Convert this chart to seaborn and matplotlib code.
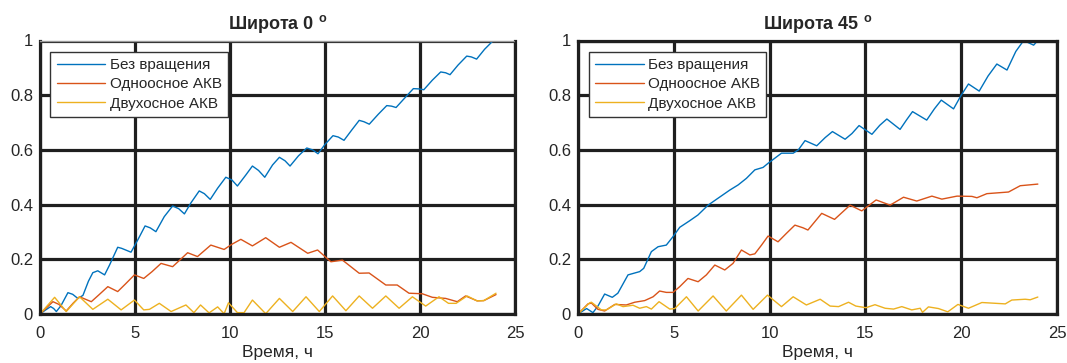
import pandas as pd
import matplotlib
matplotlib.use("Agg")
import matplotlib.pyplot as plt
import seaborn as sns
from matplotlib.ticker import FormatStrFormatter

# --- data (time in hours) ---
# latitude 0
t_blue0 = [0, 0.3, 0.56, 0.72, 0.86, 1.1, 1.47, 1.72, 1.99, 2.26, 2.55, 2.78, 3.04, 3.4, 3.66,
           4.09, 4.3, 4.79, 5.14, 5.53, 5.8, 6.1, 6.54, 6.98, 7.3, 7.6, 7.95, 8.38, 8.65, 8.96,
           9.35, 9.78, 10.1, 10.39, 10.83, 11.18, 11.5, 11.83, 12.24, 12.6, 12.9, 13.16, 13.6,
           14.04, 14.35, 14.63, 15.0, 15.42, 15.7, 16.0, 16.4, 16.8, 17.05, 17.33, 17.8, 18.25,
           18.5, 18.74, 19.2, 19.65, 19.95, 20.2, 20.65, 21.09, 21.35, 21.58, 22.0, 22.46, 22.7,
           22.98, 23.4, 23.86, 24.0]
v_blue0 = [0, 0.015, 0.027, 0.02, 0.009, 0.03, 0.078, 0.072, 0.057, 0.068, 0.12, 0.151, 0.158,
           0.143, 0.179, 0.244, 0.24, 0.226, 0.27, 0.322, 0.315, 0.301, 0.356, 0.395, 0.385,
           0.366, 0.407, 0.45, 0.44, 0.419, 0.46, 0.5, 0.49, 0.468, 0.508, 0.541, 0.525, 0.5,
           0.545, 0.573, 0.56, 0.541, 0.578, 0.607, 0.6, 0.586, 0.62, 0.652, 0.647, 0.635, 0.672,
           0.708, 0.703, 0.694, 0.73, 0.762, 0.76, 0.755, 0.79, 0.824, 0.823, 0.82, 0.855, 0.885,
           0.882, 0.875, 0.91, 0.943, 0.94, 0.932, 0.968, 1.0, 1.0]

t_red0 = [0, 0.68, 1.0, 1.38, 1.75, 2.08, 2.7, 3.1, 3.57, 4.09, 4.5, 4.97, 5.46, 5.9, 6.37, 6.98,
          7.4, 7.77, 8.29, 8.99, 9.69, 10.1, 10.57, 11.18, 11.88, 12.6, 13.21, 14.09, 14.61,
          15.31, 15.92, 16.8, 17.32, 18.2, 18.8, 19.42, 20.12, 20.65, 21.35, 21.96, 22.4, 23.01,
          23.36, 24.0]
v_red0 = [0, 0.045, 0.035, 0.011, 0.04, 0.063, 0.045, 0.07, 0.1, 0.082, 0.11, 0.143, 0.13,
          0.155, 0.185, 0.173, 0.2, 0.224, 0.21, 0.252, 0.236, 0.255, 0.273, 0.249, 0.279, 0.244,
          0.262, 0.222, 0.234, 0.191, 0.197, 0.149, 0.15, 0.106, 0.106, 0.076, 0.074, 0.061,
          0.057, 0.045, 0.066, 0.048, 0.049, 0.071]

t_yel0 = [0, 0.77, 1.38, 2.08, 2.78, 3.57, 4.27, 4.97, 5.46, 5.76, 6.28, 6.9, 7.68, 8.1, 8.45,
          8.9, 9.35, 9.69, 9.92, 10.39, 10.74, 11.18, 11.88, 12.6, 13.3, 14.0, 14.7, 15.4, 16.1,
          16.8, 17.5, 18.2, 18.9, 19.6, 20.3, 21.0, 21.5, 21.9, 22.48, 23.0, 23.36, 24.0]
v_yel0 = [0, 0.061, 0.009, 0.063, 0.017, 0.054, 0.015, 0.051, 0.015, 0.017, 0.039, 0.009,
          0.033, 0.005, 0.033, 0.004, 0.026, 0.001, 0.041, 0.005, 0.005, 0.051, 0.001, 0.057,
          0.009, 0.063, 0.009, 0.066, 0.012, 0.066, 0.021, 0.066, 0.021, 0.063, 0.029, 0.063,
          0.039, 0.039, 0.066, 0.048, 0.049, 0.076]

# latitude 45
t_blue45 = [0, 0.45, 0.78, 1.05, 1.39, 1.79, 2.08, 2.61, 3.22, 3.43, 3.83, 4.18, 4.61, 4.96,
            5.31, 5.83, 6.26, 6.79, 7.22, 7.92, 8.36, 8.79, 9.23, 9.66, 9.92, 10.62, 11.23,
            11.5, 11.85, 12.46, 12.9, 13.28, 13.94, 14.3, 14.67, 15.34, 15.75, 16.12, 16.81,
            17.15, 17.46, 18.2, 18.6, 18.96, 19.6, 20.0, 20.38, 20.94, 21.4, 21.86, 22.39,
            22.85, 23.26, 23.78, 24.0]
v_blue45 = [0, 0.02, 0.005, 0.03, 0.073, 0.061, 0.076, 0.143, 0.155, 0.167, 0.228, 0.246,
            0.252, 0.283, 0.317, 0.341, 0.362, 0.398, 0.419, 0.453, 0.472, 0.496, 0.527, 0.536,
            0.551, 0.588, 0.588, 0.6, 0.634, 0.615, 0.645, 0.667, 0.639, 0.66, 0.689, 0.657,
            0.69, 0.713, 0.675, 0.71, 0.74, 0.709, 0.75, 0.782, 0.75, 0.8, 0.841, 0.815, 0.87,
            0.914, 0.892, 0.96, 1.0, 0.983, 1.0]

t_red45 = [0, 0.52, 0.7, 1.04, 1.39, 1.92, 2.52, 2.96, 3.48, 3.92, 4.26, 4.61, 4.96, 5.31,
           5.74, 6.27, 6.7, 7.14, 7.66, 8.09, 8.53, 8.97, 9.23, 9.58, 9.92, 10.44, 10.88, 11.32,
           11.75, 12.0, 12.72, 13.39, 14.2, 14.81, 15.56, 16.29, 16.99, 17.68, 18.47, 18.99,
           19.78, 20.56, 20.82, 21.34, 22.47, 23.08, 24.0]
v_red45 = [0, 0.037, 0.04, 0.017, 0.011, 0.035, 0.033, 0.043, 0.049, 0.063, 0.084, 0.079,
           0.079, 0.1, 0.13, 0.118, 0.143, 0.179, 0.161, 0.185, 0.234, 0.216, 0.22, 0.252, 0.285,
           0.264, 0.295, 0.325, 0.315, 0.307, 0.368, 0.346, 0.398, 0.377, 0.417, 0.398, 0.427,
           0.413, 0.431, 0.42, 0.431, 0.43, 0.425, 0.44, 0.446, 0.469, 0.475]

t_yel45 = [0, 0.61, 0.7, 1.22, 1.48, 2.0, 2.35, 2.87, 3.22, 3.57, 3.83, 4.23, 4.79, 5.05, 5.66,
           6.27, 7.05, 7.74, 8.53, 9.14, 9.89, 10.62, 11.23, 11.92, 12.64, 13.16, 13.6, 14.12,
           14.5, 15.03, 15.5, 16.03, 16.47, 16.9, 17.42, 17.86, 17.98, 18.29, 18.81, 19.3,
           19.83, 20.38, 21.08, 22.3, 22.64, 23.34, 23.6, 24.0]
v_yel45 = [0, 0.041, 0.043, 0.015, 0.015, 0.037, 0.027, 0.032, 0.021, 0.027, 0.018, 0.045,
           0.018, 0.02, 0.063, 0.011, 0.066, 0.011, 0.069, 0.017, 0.069, 0.027, 0.063, 0.033,
           0.054, 0.029, 0.027, 0.043, 0.029, 0.023, 0.034, 0.021, 0.018, 0.027, 0.015, 0.021,
           0.006, 0.026, 0.02, 0.008, 0.035, 0.021, 0.042, 0.037, 0.051, 0.054, 0.052, 0.062]

labels = ["Без вращения", "Одноосное АКВ", "Двухосное АКВ"]
colors = ["#0072BD", "#D95319", "#EDB120"]
titles = ["Широта 0 $^{\\mathbf{o}}$", "Широта 45 $^{\\mathbf{o}}$"]
x_ticks = [0, 5, 10, 15, 20, 25]
y_ticks = [0, 0.2, 0.4, 0.6, 0.8, 1]

panels = [
    [(t_blue0, v_blue0), (t_red0, v_red0), (t_yel0, v_yel0)],
    [(t_blue45, v_blue45), (t_red45, v_red45), (t_yel45, v_yel45)],
]

sns.set_style("white")
plt.rcParams["font.family"] = ["Liberation Sans", "DejaVu Sans"]
plt.rcParams["mathtext.fontset"] = "custom"
plt.rcParams["mathtext.rm"] = "Liberation Sans"
plt.rcParams["mathtext.bf"] = "Liberation Sans:bold"

fig = plt.figure(figsize=(10.67, 3.63), dpi=100)
axes = [fig.add_axes([40 / 1067, 49 / 363, 475 / 1067, 273.5 / 363]),
        fig.add_axes([578 / 1067, 49 / 363, 479 / 1067, 273.5 / 363])]

for ax, series, title in zip(axes, panels, titles):
    for (t, v), lab, col in zip(series, labels, colors):
        df = pd.DataFrame({"t": t, "v": v})
        sns.lineplot(data=df, x="t", y="v", ax=ax, color=col, linewidth=1.0, label=lab)
    ax.set_xlim(0, 25)
    ax.set_ylim(0, 1)
    ax.set_xticks(x_ticks)
    ax.set_yticks(y_ticks)
    ax.yaxis.set_major_formatter(FormatStrFormatter("%g"))
    ax.grid(True, color="#1f1f1f", linewidth=2.3)
    ax.set_axisbelow(True)
    for s in ax.spines.values():
        s.set_color("#1f1f1f")
        s.set_linewidth(2.3)
    ax.tick_params(length=0, labelsize=12, colors="#262626")
    ax.tick_params(axis="x", pad=9)
    ax.tick_params(axis="y", pad=5)
    ax.set_title(title, fontsize=13, fontweight="bold", pad=8)
    ax.set_xlabel("Время, ч", fontsize=12.5, labelpad=2.5, color="#262626")
    ax.set_ylabel("")
    leg = ax.legend(loc="upper left", bbox_to_anchor=(0.022, 0.958), fontsize=11,
                    fancybox=False, framealpha=1, edgecolor="#333333",
                    handlelength=3.2, handletextpad=0.3, borderpad=0.4,
                    labelspacing=0.35, borderaxespad=0)
    leg.get_frame().set_linewidth(1.0)

# artefacts of the original rendering: dotted edges
axes[0].spines["top"].set_color("#999999")
axes[0].spines["top"].set_linewidth(1.0)
axes[0].spines["top"].set_linestyle((0, (1, 1)))
axes[1].spines["left"].set_linestyle((0, (2, 1)))

fig.savefig("out.png", dpi=100)
